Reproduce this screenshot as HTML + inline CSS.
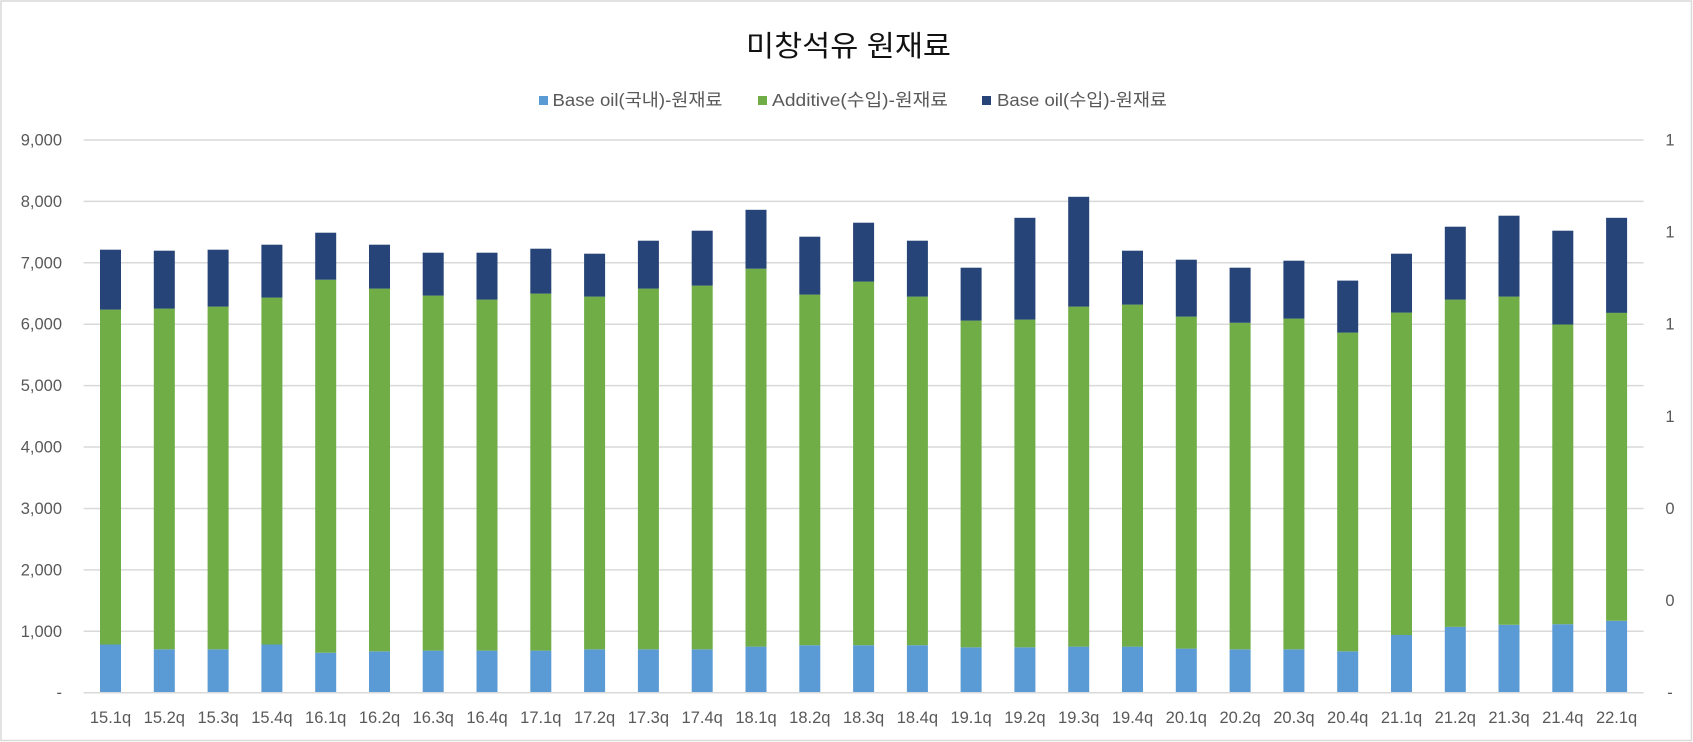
<!DOCTYPE html>
<html><head><meta charset="utf-8"><style>
html,body{margin:0;padding:0;background:#fff;}
svg{display:block;}
text{font-family:"Liberation Sans","Noto Sans CJK KR",sans-serif;}
</style></head><body>
<svg width="1693" height="742" viewBox="0 0 1693 742" xmlns="http://www.w3.org/2000/svg">
<rect x="0" y="0" width="1693" height="742" fill="#fff"/>
<rect x="1" y="1" width="1690.5" height="739.5" fill="none" stroke="#d9d9d9" stroke-width="1.5"/>
<text x="746" y="56" font-size="29" fill="#111" textLength="205" lengthAdjust="spacingAndGlyphs">미창석유 원재료</text>
<rect x="539" y="96" width="9" height="9" fill="#5b9bd5"/>
<text x="552.5" y="106" font-size="17.5" fill="#595959" textLength="170" lengthAdjust="spacingAndGlyphs">Base oil(국내)-원재료</text>
<rect x="758" y="96" width="9" height="9" fill="#70ad47"/>
<text x="772" y="106" font-size="17.5" fill="#595959" textLength="176" lengthAdjust="spacingAndGlyphs">Additive(수입)-원재료</text>
<rect x="982" y="96" width="9" height="9" fill="#264478"/>
<text x="997" y="106" font-size="17.5" fill="#595959" textLength="170" lengthAdjust="spacingAndGlyphs">Base oil(수입)-원재료</text>
<g stroke="#d9d9d9" stroke-width="1.5">
<line x1="83.6" x2="1643.6" y1="140" y2="140"/>
<line x1="83.6" x2="1643.6" y1="201.4" y2="201.4"/>
<line x1="83.6" x2="1643.6" y1="262.8" y2="262.8"/>
<line x1="83.6" x2="1643.6" y1="324.2" y2="324.2"/>
<line x1="83.6" x2="1643.6" y1="385.6" y2="385.6"/>
<line x1="83.6" x2="1643.6" y1="447" y2="447"/>
<line x1="83.6" x2="1643.6" y1="508.5" y2="508.5"/>
<line x1="83.6" x2="1643.6" y1="569.9" y2="569.9"/>
<line x1="83.6" x2="1643.6" y1="631.3" y2="631.3"/>
</g>
<g font-size="16.5" fill="#595959" text-anchor="end">
<text x="62" y="145.5">9,000</text>
<text x="62" y="206.9">8,000</text>
<text x="62" y="268.3">7,000</text>
<text x="62" y="329.7">6,000</text>
<text x="62" y="391.1">5,000</text>
<text x="62" y="452.5">4,000</text>
<text x="62" y="514">3,000</text>
<text x="62" y="575.4">2,000</text>
<text x="62" y="636.8">1,000</text>
<text x="62" y="698.2">-</text>
</g>
<g font-size="16.5" fill="#595959" text-anchor="middle">
<text x="1670" y="145.5">1</text>
<text x="1670" y="237.6">1</text>
<text x="1670" y="329.7">1</text>
<text x="1670" y="421.8">1</text>
<text x="1670" y="514">0</text>
<text x="1670" y="606.1">0</text>
<text x="1670" y="698.2">-</text>
</g>
<g id="bars">
<rect x="100.0" y="644.5" width="21" height="48.2" fill="#5b9bd5"/><rect x="100.0" y="309.6" width="21" height="334.9" fill="#70ad47"/><rect x="100.0" y="249.7" width="21" height="59.9" fill="#264478"/>
<rect x="153.8" y="649.3" width="21" height="43.4" fill="#5b9bd5"/><rect x="153.8" y="308.6" width="21" height="340.7" fill="#70ad47"/><rect x="153.8" y="250.7" width="21" height="57.9" fill="#264478"/>
<rect x="207.6" y="649.3" width="21" height="43.4" fill="#5b9bd5"/><rect x="207.6" y="306.6" width="21" height="342.7" fill="#70ad47"/><rect x="207.6" y="249.7" width="21" height="56.9" fill="#264478"/>
<rect x="261.4" y="644.5" width="21" height="48.2" fill="#5b9bd5"/><rect x="261.4" y="297.6" width="21" height="346.9" fill="#70ad47"/><rect x="261.4" y="244.7" width="21" height="52.9" fill="#264478"/>
<rect x="315.2" y="652.7" width="21" height="40.0" fill="#5b9bd5"/><rect x="315.2" y="279.7" width="21" height="373.0" fill="#70ad47"/><rect x="315.2" y="232.7" width="21" height="47.0" fill="#264478"/>
<rect x="369.0" y="651.3" width="21" height="41.4" fill="#5b9bd5"/><rect x="369.0" y="288.6" width="21" height="362.7" fill="#70ad47"/><rect x="369.0" y="244.7" width="21" height="43.9" fill="#264478"/>
<rect x="422.7" y="650.6" width="21" height="42.1" fill="#5b9bd5"/><rect x="422.7" y="295.6" width="21" height="355.0" fill="#70ad47"/><rect x="422.7" y="252.7" width="21" height="42.9" fill="#264478"/>
<rect x="476.5" y="650.6" width="21" height="42.1" fill="#5b9bd5"/><rect x="476.5" y="299.6" width="21" height="351.0" fill="#70ad47"/><rect x="476.5" y="252.7" width="21" height="46.9" fill="#264478"/>
<rect x="530.3" y="650.6" width="21" height="42.1" fill="#5b9bd5"/><rect x="530.3" y="293.6" width="21" height="357.0" fill="#70ad47"/><rect x="530.3" y="248.7" width="21" height="44.9" fill="#264478"/>
<rect x="584.1" y="649.3" width="21" height="43.4" fill="#5b9bd5"/><rect x="584.1" y="296.6" width="21" height="352.7" fill="#70ad47"/><rect x="584.1" y="253.7" width="21" height="42.9" fill="#264478"/>
<rect x="637.9" y="649.3" width="21" height="43.4" fill="#5b9bd5"/><rect x="637.9" y="288.6" width="21" height="360.7" fill="#70ad47"/><rect x="637.9" y="240.7" width="21" height="47.9" fill="#264478"/>
<rect x="691.7" y="649.3" width="21" height="43.4" fill="#5b9bd5"/><rect x="691.7" y="285.6" width="21" height="363.7" fill="#70ad47"/><rect x="691.7" y="230.7" width="21" height="54.9" fill="#264478"/>
<rect x="745.5" y="646.6" width="21" height="46.1" fill="#5b9bd5"/><rect x="745.5" y="268.7" width="21" height="377.9" fill="#70ad47"/><rect x="745.5" y="209.8" width="21" height="58.9" fill="#264478"/>
<rect x="799.3" y="645.2" width="21" height="47.5" fill="#5b9bd5"/><rect x="799.3" y="294.6" width="21" height="350.6" fill="#70ad47"/><rect x="799.3" y="236.7" width="21" height="57.9" fill="#264478"/>
<rect x="853.1" y="645.2" width="21" height="47.5" fill="#5b9bd5"/><rect x="853.1" y="281.6" width="21" height="363.6" fill="#70ad47"/><rect x="853.1" y="222.7" width="21" height="58.9" fill="#264478"/>
<rect x="906.9" y="645.2" width="21" height="47.5" fill="#5b9bd5"/><rect x="906.9" y="296.6" width="21" height="348.6" fill="#70ad47"/><rect x="906.9" y="240.7" width="21" height="55.9" fill="#264478"/>
<rect x="960.6" y="647.3" width="21" height="45.4" fill="#5b9bd5"/><rect x="960.6" y="320.6" width="21" height="326.7" fill="#70ad47"/><rect x="960.6" y="267.7" width="21" height="52.9" fill="#264478"/>
<rect x="1014.4" y="647.3" width="21" height="45.4" fill="#5b9bd5"/><rect x="1014.4" y="319.6" width="21" height="327.7" fill="#70ad47"/><rect x="1014.4" y="217.8" width="21" height="101.8" fill="#264478"/>
<rect x="1068.2" y="646.6" width="21" height="46.1" fill="#5b9bd5"/><rect x="1068.2" y="306.6" width="21" height="340.0" fill="#70ad47"/><rect x="1068.2" y="196.8" width="21" height="109.8" fill="#264478"/>
<rect x="1122.0" y="646.6" width="21" height="46.1" fill="#5b9bd5"/><rect x="1122.0" y="304.6" width="21" height="342.0" fill="#70ad47"/><rect x="1122.0" y="250.7" width="21" height="53.9" fill="#264478"/>
<rect x="1175.8" y="648.6" width="21" height="44.1" fill="#5b9bd5"/><rect x="1175.8" y="316.6" width="21" height="332.0" fill="#70ad47"/><rect x="1175.8" y="259.7" width="21" height="56.9" fill="#264478"/>
<rect x="1229.6" y="649.3" width="21" height="43.4" fill="#5b9bd5"/><rect x="1229.6" y="322.8" width="21" height="326.5" fill="#70ad47"/><rect x="1229.6" y="267.7" width="21" height="55.1" fill="#264478"/>
<rect x="1283.4" y="649.3" width="21" height="43.4" fill="#5b9bd5"/><rect x="1283.4" y="318.6" width="21" height="330.7" fill="#70ad47"/><rect x="1283.4" y="260.7" width="21" height="57.9" fill="#264478"/>
<rect x="1337.2" y="651.3" width="21" height="41.4" fill="#5b9bd5"/><rect x="1337.2" y="332.6" width="21" height="318.7" fill="#70ad47"/><rect x="1337.2" y="280.6" width="21" height="52.0" fill="#264478"/>
<rect x="1391.0" y="635.0" width="21" height="57.7" fill="#5b9bd5"/><rect x="1391.0" y="312.6" width="21" height="322.4" fill="#70ad47"/><rect x="1391.0" y="253.7" width="21" height="58.9" fill="#264478"/>
<rect x="1444.8" y="626.9" width="21" height="65.8" fill="#5b9bd5"/><rect x="1444.8" y="299.6" width="21" height="327.3" fill="#70ad47"/><rect x="1444.8" y="226.7" width="21" height="72.9" fill="#264478"/>
<rect x="1498.5" y="624.8" width="21" height="67.9" fill="#5b9bd5"/><rect x="1498.5" y="296.6" width="21" height="328.2" fill="#70ad47"/><rect x="1498.5" y="215.7" width="21" height="80.9" fill="#264478"/>
<rect x="1552.3" y="624.2" width="21" height="68.5" fill="#5b9bd5"/><rect x="1552.3" y="324.5" width="21" height="299.7" fill="#70ad47"/><rect x="1552.3" y="230.7" width="21" height="93.8" fill="#264478"/>
<rect x="1606.1" y="620.8" width="21" height="71.9" fill="#5b9bd5"/><rect x="1606.1" y="312.6" width="21" height="308.2" fill="#70ad47"/><rect x="1606.1" y="217.8" width="21" height="95.0" fill="#264478"/>
</g>
<line x1="83.6" x2="1643.6" y1="692.7" y2="692.7" stroke="#d9d9d9" stroke-width="1.5"/>
<g font-size="16.5" fill="#595959" text-anchor="middle">
<text x="110.5" y="723">15.1q</text>
<text x="164.3" y="723">15.2q</text>
<text x="218.1" y="723">15.3q</text>
<text x="271.9" y="723">15.4q</text>
<text x="325.7" y="723">16.1q</text>
<text x="379.5" y="723">16.2q</text>
<text x="433.2" y="723">16.3q</text>
<text x="487.0" y="723">16.4q</text>
<text x="540.8" y="723">17.1q</text>
<text x="594.6" y="723">17.2q</text>
<text x="648.4" y="723">17.3q</text>
<text x="702.2" y="723">17.4q</text>
<text x="756.0" y="723">18.1q</text>
<text x="809.8" y="723">18.2q</text>
<text x="863.6" y="723">18.3q</text>
<text x="917.4" y="723">18.4q</text>
<text x="971.1" y="723">19.1q</text>
<text x="1024.9" y="723">19.2q</text>
<text x="1078.7" y="723">19.3q</text>
<text x="1132.5" y="723">19.4q</text>
<text x="1186.3" y="723">20.1q</text>
<text x="1240.1" y="723">20.2q</text>
<text x="1293.9" y="723">20.3q</text>
<text x="1347.7" y="723">20.4q</text>
<text x="1401.5" y="723">21.1q</text>
<text x="1455.3" y="723">21.2q</text>
<text x="1509.0" y="723">21.3q</text>
<text x="1562.8" y="723">21.4q</text>
<text x="1616.6" y="723">22.1q</text>
</g>
</svg>
</body></html>
